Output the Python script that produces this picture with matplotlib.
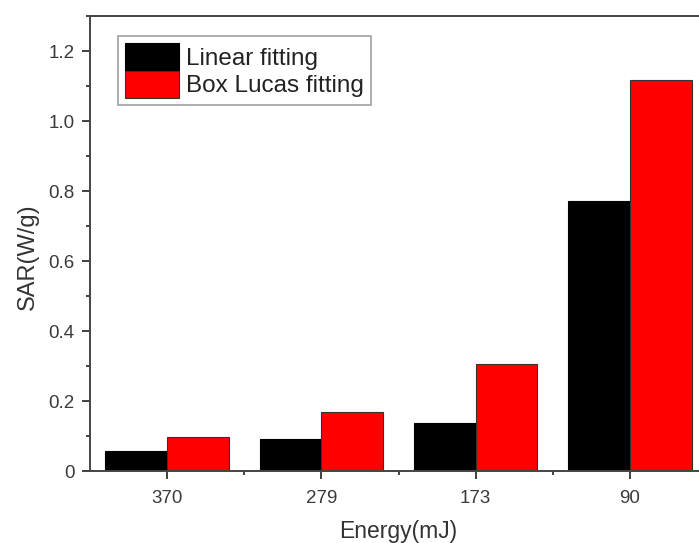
import matplotlib.pyplot as plt
import numpy as np
from matplotlib.ticker import FuncFormatter, MultipleLocator, FixedLocator

plt.rcParams["font.family"] = ["Liberation Sans", "DejaVu Sans"]

# datos
energias = ["370", "279", "173", "90"]
sar_lineal = [0.057, 0.091, 0.137, 0.771]
sar_box_lucas = [0.097, 0.169, 0.306, 1.117]
etiquetas = ["Linear fitting", "Box Lucas fitting"]

fig = plt.figure(figsize=(6.99, 5.43), dpi=100)
# el eje se sale por la derecha, igual que en la imagen recortada
ax = fig.add_axes([90 / 699, 72 / 543, 617 / 699, 455 / 543])

x = np.arange(len(energias))
ancho = 0.4
ax.bar(x - ancho / 2, sar_lineal, ancho, color="black", edgecolor="black",
       linewidth=0.8, label=etiquetas[0])
ax.bar(x + ancho / 2, sar_box_lucas, ancho, color="#ff0000", edgecolor="#333333",
       linewidth=0.8, label=etiquetas[1])

ax.set_xlim(-0.5, len(energias) - 0.5)
ax.set_ylim(0, 1.3)

ax.set_xticks(x)
ax.set_xticklabels(energias)
ax.xaxis.set_minor_locator(FixedLocator(x[:-1] + 0.5))
ax.yaxis.set_major_locator(MultipleLocator(0.2))
ax.yaxis.set_minor_locator(MultipleLocator(0.1))
ax.yaxis.set_major_formatter(FuncFormatter(lambda v, p: "0" if abs(v) < 1e-9 else f"{v:.1f}"))

ax.tick_params(which="major", direction="out", length=6, width=1.3,
               labelsize=13.5, colors="#333333", labelcolor="#3a3a3a")
ax.tick_params(axis="x", which="major", pad=8)
ax.tick_params(axis="y", which="major", pad=5)
ax.tick_params(which="minor", direction="out", length=3, width=1.3, colors="#333333")
for s in ax.spines.values():
    s.set_linewidth(1.4)
    s.set_color("#444444")

ax.set_xlabel("Energy(mJ)", fontsize=16.5, color="#333333", labelpad=9)
ax.set_ylabel("SAR(W/g)", fontsize=17, color="#333333")
ax.yaxis.set_label_coords(-0.083, 0.47)

leg = ax.legend(loc="upper left", bbox_to_anchor=(28 / 617, 1 - 20 / 455),
                fontsize=17.5, frameon=True, fancybox=False, edgecolor="#888888",
                handlelength=2.2, handleheight=1.35, labelspacing=0.0,
                handletextpad=0.3, borderpad=0.3, borderaxespad=0)
leg.get_frame().set_linewidth(1.2)
for t in leg.get_texts():
    t.set_color("#222222")

plt.savefig("out.png", dpi=100)
